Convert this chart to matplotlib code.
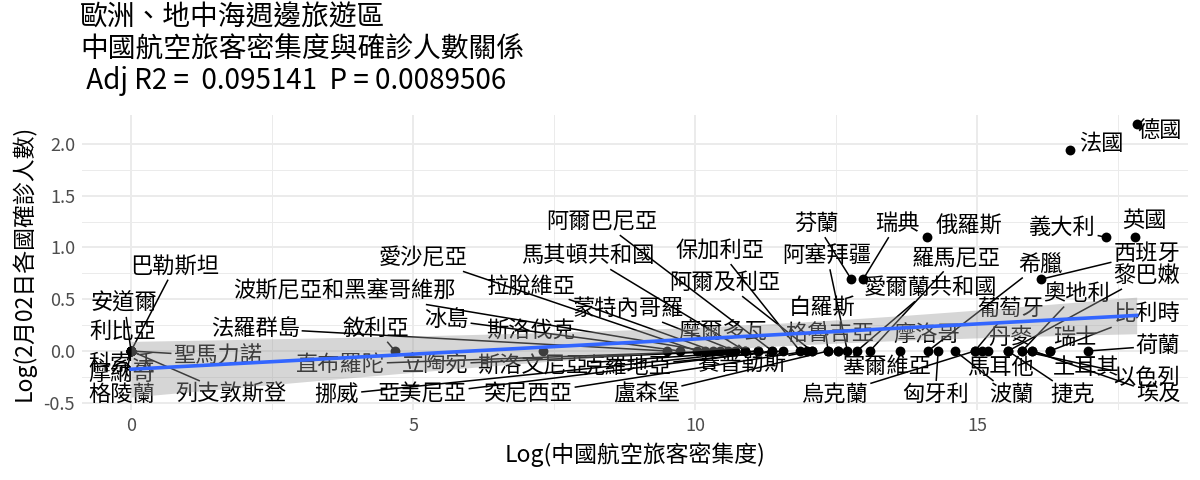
import numpy as np
import matplotlib
matplotlib.use("Agg")
import matplotlib.pyplot as plt

plt.rcParams['font.family'] = ['Noto Sans CJK TC', 'DejaVu Sans']

# ---- data ----
countries = [
    "巴勒斯坦", "安道爾", "利比亞", "科索沃", "摩納哥", "格陵蘭", "聖馬力諾", "列支敦斯登",
    "敘利亞", "斯洛伐克", "法羅群島", "冰島", "愛沙尼亞", "波斯尼亞和黑塞哥維那", "拉脫維亞",
    "直布羅陀", "立陶宛", "蒙特內哥羅", "摩爾多瓦", "馬其頓共和國", "斯洛文尼亞", "挪威",
    "亞美尼亞", "阿爾巴尼亞", "克羅地亞", "保加利亞", "突尼西亞", "阿爾及利亞", "賽普勒斯",
    "盧森堡", "白羅斯", "格魯吉亞", "塞爾維亞", "阿塞拜疆", "愛爾蘭共和國", "羅馬尼亞",
    "芬蘭", "瑞典", "摩洛哥", "希臘", "俄羅斯", "匈牙利", "波蘭", "葡萄牙", "烏克蘭",
    "馬耳他", "丹麥", "捷克", "黎巴嫩", "奧地利", "以色列", "土耳其", "埃及", "西班牙",
    "瑞士", "比利時", "法國", "荷蘭", "義大利", "英國", "德國",
]
log_density = [
    0.0, 0.0, 0.0, 0.0, 0.0, 0.0, 0.0, 0.0,
    4.68, 7.30, 9.50, 9.73, 10.04, 10.18, 10.32,
    10.44, 10.59, 10.71, 10.89, 10.89, 11.12, 11.12,
    11.37, 11.37, 11.56, 11.86, 11.99, 12.07, 12.07,
    12.36, 12.36, 12.54, 12.54, 12.70, 12.87, 13.10,
    12.77, 12.98, 13.63, 14.13, 14.11, 14.31, 14.61, 14.96, 14.96,
    15.09, 15.20, 15.55, 15.55, 15.80, 15.80, 15.98, 15.98, 16.13,
    16.29, 16.29, 16.65, 16.97, 17.28, 17.80, 17.83,
]
log_cases = [
    0, 0, 0, 0, 0, 0, 0, 0,
    0, 0, 0, 0, 0, 0, 0,
    0, 0, 0, 0, 0, 0, 0,
    0, 0, 0, 0, 0, 0, 0,
    0, 0, 0, 0, 0, 0, 0,
    0.693, 0.693, 0, 0, 1.099, 0, 0, 0, 0,
    0, 0, 0, 0, 0, 0, 0, 0, 0.693,
    0, 0, 1.946, 0, 1.099, 1.099, 2.197,
]

title_lines = ["歐洲、地中海週邊旅遊區", "中國航空旅客密集度與確診人數關係",
               " Adj R2 =  0.095141  P = 0.0089506"]
x_label = "Log(中國航空旅客密集度)"
y_label = "Log(2月02日各國確診人數)"
x_ticks = [0, 5, 10, 15]
y_ticks = [-0.5, 0.0, 0.5, 1.0, 1.5, 2.0]
y_tick_labels = ["-0.5", "0.0", "0.5", "1.0", "1.5", "2.0"]

# ---- label placement (repelled text positions, data units) ----
label_pos = {
    "巴勒斯坦": (0.78, 0.82), "安道爾": (-0.12, 0.46), "利比亞": (-0.14, 0.19),
    "科索沃": (-0.16, -0.12), "摩納哥": (-0.16, -0.22), "格陵蘭": (-0.16, -0.42),
    "聖馬力諾": (1.54, -0.05), "列支敦斯登": (1.77, -0.42), "法羅群島": (2.20, 0.22),
    "敘利亞": (4.34, 0.22), "直布羅陀": (3.71, -0.13), "立陶宛": (5.39, -0.13),
    "挪威": (3.65, -0.42), "亞美尼亞": (5.16, -0.42), "斯洛伐克": (7.09, 0.19),
    "斯洛文尼亞": (7.13, -0.15), "克羅地亞": (8.79, -0.15), "突尼西亞": (7.04, -0.42),
    "盧森堡": (9.13, -0.42), "賽普勒斯": (10.83, -0.13), "冰島": (5.59, 0.30),
    "愛沙尼亞": (5.18, 0.90), "波斯尼亞和黑塞哥維那": (3.79, 0.58), "拉脫維亞": (7.09, 0.63),
    "馬其頓共和國": (8.10, 0.92), "阿爾巴尼亞": (8.35, 1.25), "蒙特內哥羅": (8.81, 0.41),
    "摩爾多瓦": (10.50, 0.19), "保加利亞": (10.44, 0.97), "阿爾及利亞": (10.53, 0.66),
    "白羅斯": (12.25, 0.42), "格魯吉亞": (12.39, 0.17), "芬蘭": (12.15, 1.23),
    "阿塞拜疆": (12.34, 0.92), "瑞典": (13.58, 1.23), "俄羅斯": (14.86, 1.21),
    "羅馬尼亞": (14.63, 0.90), "愛爾蘭共和國": (14.18, 0.61), "摩洛哥": (14.11, 0.16),
    "塞爾維亞": (13.39, -0.15), "烏克蘭": (12.48, -0.42), "匈牙利": (14.26, -0.42),
    "義大利": (16.51, 1.19), "英國": (17.96, 1.26), "西班牙": (18.01, 0.94),
    "希臘": (16.12, 0.84), "黎巴嫩": (18.01, 0.73), "奧地利": (16.77, 0.56),
    "葡萄牙": (15.59, 0.41), "比利時": (18.01, 0.36), "丹麥": (15.60, 0.13),
    "瑞士": (16.74, 0.13), "荷蘭": (18.21, 0.05), "馬耳他": (15.41, -0.16),
    "土耳其": (16.93, -0.16), "以色列": (18.01, -0.26), "波蘭": (15.60, -0.42),
    "捷克": (16.70, -0.42), "埃及": (18.21, -0.42), "法國": (17.20, 2.00),
    "德國": (18.23, 2.13),
}

x = np.array(log_density)
y = np.array(log_cases)

fig = plt.figure(figsize=(12, 4.8), dpi=100)
ax = fig.add_axes([82/1200, 1-410/480, (1188-82)/1200, (410-115)/480])
ax.set_xlim(-0.87, 18.74)
ax.set_ylim(-0.57, 2.28)

# grid (theme_minimal)
ax.set_xticks(x_ticks)
ax.set_yticks(y_ticks)
ax.set_xticks([2.5, 7.5, 12.5, 17.5], minor=True)
ax.set_yticks([-0.25, 0.25, 0.75, 1.25, 1.75], minor=True)
ax.grid(True, which='major', color='#ebebeb', lw=1.4, zorder=0)
ax.grid(True, which='minor', color='#ebebeb', lw=0.7, zorder=0)
ax.set_axisbelow(True)
for s in ax.spines.values():
    s.set_visible(False)
ax.tick_params(which='both', length=0, labelsize=13, labelcolor='#4d4d4d', pad=5)
ax.set_yticklabels(y_tick_labels)
ax.set_xlabel(x_label, fontsize=16.5, labelpad=5)
ax.set_ylabel(y_label, fontsize=16.5, labelpad=6)

# points
ax.scatter(x, y, s=50, color='black', zorder=2, linewidths=0)

# labels
texts = {}
for name in countries:
    lx, ly = label_pos[name]
    texts[name] = ax.text(lx, ly, name, fontsize=16, ha='center', va='center',
                          color='black', zorder=3)

fig.canvas.draw()
renderer = fig.canvas.get_renderer()
inv = ax.transData.inverted()
for name, xi, yi in zip(countries, x, y):
    t = texts[name]
    bb = t.get_window_extent(renderer)
    pad = 2.0
    cx, cy = (bb.x0 + bb.x1) / 2, (bb.y0 + bb.y1) / 2
    hw, hh = bb.width / 2 + pad, bb.height / 2 + pad
    px, py = ax.transData.transform((xi, yi))
    dx, dy = px - cx, py - cy
    if abs(dx) <= hw and abs(dy) <= hh:
        continue
    tx = hw / abs(dx) if dx != 0 else np.inf
    ty = hh / abs(dy) if dy != 0 else np.inf
    t0 = min(tx, ty)
    sx, sy = cx + t0 * dx, cy + t0 * dy
    if np.hypot(px - sx, py - sy) < 8:
        continue
    (dx0, dy0), (dx1, dy1) = inv.transform([(sx, sy), (px, py)])
    ax.plot([dx0, dx1], [dy0, dy1], color='black', lw=1.1, zorder=3,
            solid_capstyle='butt')

# linear fit with 95% CI
n = len(x)
slope, intercept = np.polyfit(x, y, 1)
xs = np.linspace(x.min(), x.max(), 80)
ys = intercept + slope * xs
resid = y - (intercept + slope * x)
s_err = np.sqrt(np.sum(resid**2) / (n - 2))
sxx = np.sum((x - x.mean())**2)
t_crit = 2.001
se = s_err * np.sqrt(1.0 / n + (xs - x.mean())**2 / sxx)
ax.fill_between(xs, ys - t_crit * se, ys + t_crit * se, color='#999999',
                alpha=0.4, lw=0, zorder=4)
ax.plot(xs, ys, color='#3366FF', lw=2.6, zorder=5)

# title
for i, (line, yc) in enumerate(zip(title_lines, [18, 50, 81])):
    fig.text(80/1200, 1 - yc / 480, line, fontsize=20,
             ha='left', va='center')

fig.savefig("out.png", dpi=100)
